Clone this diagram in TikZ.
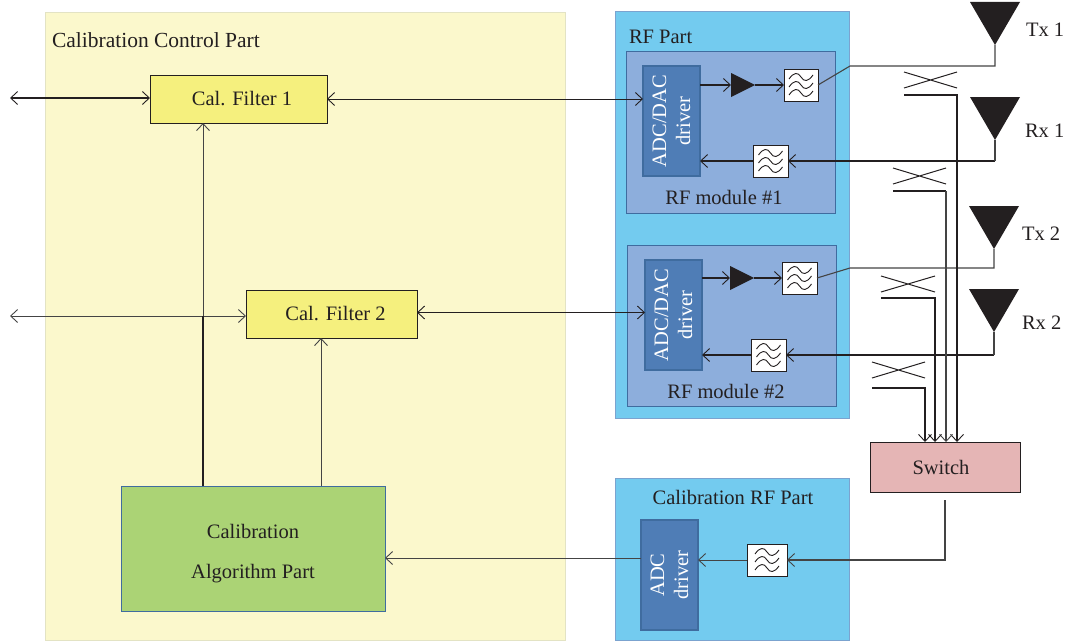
\documentclass[tikz,border=0pt]{standalone}
\usepackage{fontspec}
\setmainfont{Liberation Serif}
\usetikzlibrary{arrows.meta,calc}
\definecolor{ctlfill}{HTML}{FBF8CC}
\definecolor{ctledge}{HTML}{E3E3C4}
\definecolor{rffill}{HTML}{73CBEF}
\definecolor{rfedge}{HTML}{7BA3CF}
\definecolor{modfill}{HTML}{8DAEDC}
\definecolor{modedge}{HTML}{3F6C9F}
\definecolor{drvfill}{HTML}{4F7DB6}
\definecolor{calfill}{HTML}{F5F07E}
\definecolor{algfill}{HTML}{ABD375}
\definecolor{swfill}{HTML}{E5B5B5}
\definecolor{ink}{HTML}{231F20}
\definecolor{wire}{HTML}{444444}
\tikzset{
  x=1pt,y=-1pt,
  every node/.style={font=\fontsize{20.5}{24}\selectfont,text=ink,inner sep=0pt,outer sep=0pt,align=center},
  block/.style={draw,rectangle,line width=.9pt},
  ctlpart/.style={block,draw=ctledge,fill=ctlfill},
  rfpart/.style={block,draw=rfedge,fill=rffill,line width=1pt},
  rfmod/.style={block,draw=modedge,fill=modfill},
  drv/.style={block,draw=modedge,fill=drvfill,line width=1.2pt},
  drvtext/.style={text=white,rotate=90},
  cal/.style={block,draw=ink,fill=calfill},
  alg/.style={block,draw=modedge,fill=algfill,line width=.9pt},
  sw/.style={block,draw=ink,fill=swfill},
  filt/.style={block,draw=ink,fill=white},
  tip/.style={-{Straight Barb[length=7pt,width=13pt,line width=.9pt]}},
  tips/.style={{Straight Barb[length=7pt,width=13pt,line width=.9pt]}-{Straight Barb[length=7pt,width=13pt,line width=.9pt]}},
  hair wire/.style={line width=.8pt,draw=wire},
  thin wire/.style={line width=1.1pt,draw=wire},
  thick wire/.style={line width=1.6pt,draw=ink},
  black wire/.style={line width=1pt,draw=ink},
  wave/.style={line width=.9pt,draw=ink},
  lab/.style={anchor=west},
}
\newcommand{\filtbox}[5]{% name cx cy w h
  \node[filt,minimum width=#4,minimum height=#5] (#1) at (#2,#3) {};
  \foreach \dy in {-8,0,8}{
    \draw[wave] ($(#1.center)+(-12,\dy+2)$) .. controls +(5,-7) and +(-3,-5) .. ($(#1.center)+(0,\dy)$) .. controls +(3,5) and +(-5,7) .. ($(#1.center)+(12,\dy-2)$);
  }
}
\newcommand{\antenna}[3]{% name cx topy
  \coordinate (#1) at (#2,#3+43);
  \fill[ink] (#2-25,#3) -- (#2+25,#3) -- (#1) -- cycle;
}
\newcommand{\amp}[3]{% name leftx cy
  \coordinate (#1l) at (#2,#3);
  \coordinate (#1r) at (#2+24,#3);
  \fill[ink] (#2,#3-12) -- (#1r) -- (#2,#3+12) -- cycle;
}
\newcommand{\coupler}[5]{% name xleft ytop yline xright
  \coordinate (#1a) at (#2,#3);
  \coordinate (#1b) at (#5,#3+16);
  \coordinate (#1c) at (#2,#3+16);
  \coordinate (#1d) at (#5,#3);
  \coordinate (#1l) at (#2,#4);
  \coordinate (#1r) at (#5,#4);
  \draw[black wire] (#1a) -- (#1b) (#1c) -- (#1d);
}
\begin{document}
\begin{tikzpicture}
\useasboundingbox (0,0) rectangle (1065,642);
% parts
\node[ctlpart,minimum width=520,minimum height=628] (ctl) at (305,326) {};
\node[lab,font=\fontsize{21.5}{24}\selectfont] (ctllab) at (52,40) {Calibration Control Part};
\node[rfpart,minimum width=234,minimum height=406] (rf) at (732,215) {};
\node[lab] (rflab) at (629,37) {RF Part};
\node[rfmod,minimum width=209,minimum height=162] (m1) at (730.5,132) {};
\node (m1lab) at (724,197) {RF module \#1};
\node[rfmod,minimum width=209,minimum height=161] (m2) at (731.5,325.5) {};
\node (m2lab) at (726,391) {RF module \#2};
\node[rfpart,minimum width=234,minimum height=162] (crf) at (732,559) {};
\node (crflab) at (733,497) {Calibration RF Part};
% drivers
\node[drv,minimum width=57,minimum height=110] (d1) at (671.5,121) {};
\node[drvtext] (d1t) at (d1.center) {ADC/DAC\\driver};
\node[drv,minimum width=57,minimum height=110] (d2) at (673.5,315) {};
\node[drvtext] (d2t) at (d2.center) {ADC/DAC\\driver};
\node[drv,minimum width=57,minimum height=110] (d3) at (669.5,575) {};
\node[drvtext] (d3t) at (d3.center) {ADC\\driver};
% blocks
\node[cal,minimum width=177,minimum height=48] (cf1) at (238.5,99) {};
\node (cf1t) at (242,99) {Cal. Filter 1};
\node[cal,minimum width=171,minimum height=48] (cf2) at (331.5,314) {};
\node (cf2t) at (335.5,314) {Cal. Filter 2};
\node[alg,minimum width=264,minimum height=125] (algo) at (253,548.5) {};
\node (algot) at (253,554) {Calibration\\[16pt]Algorithm Part};
\node[sw,minimum width=150,minimum height=50] (swi) at (945,467) {};
\node (swit) at (941,467) {Switch};
% filters
\filtbox{f1a}{801}{85}{34}{32}
\filtbox{f1b}{770.5}{161}{35}{32}
\filtbox{f2a}{799.5}{278}{35}{32}
\filtbox{f2b}{768.5}{355}{35}{32}
\filtbox{f3}{767}{560}{40}{32}
% amplifiers
\amp{a1}{731}{85}
\amp{a2}{730}{278}
% antennas
\antenna{tx1}{995}{2}
\antenna{rx1}{995}{97}
\antenna{tx2}{994}{206}
\antenna{rx2}{994}{289}
\node[lab] (tx1lab) at (1026,30) {Tx 1};
\node[lab] (rx1lab) at (1025,131) {Rx 1};
\node[lab] (tx2lab) at (1022,234) {Tx 2};
\node[lab] (rx2lab) at (1022,323) {Rx 2};
% couplers
\coupler{c1}{904}{72}{95}{957}
\coupler{c2}{893}{168}{191}{946}
\coupler{c3}{881}{276}{298}{935}
\coupler{c4}{872}{362}{388}{925}
% free ends
\coordinate (ext1) at (10,98);
\coordinate (ext2) at (10,316);
\coordinate (bend1) at (850,66);
\coordinate (bend2) at (850,268);
\coordinate (swout) at (945,500);
\coordinate (cf2y) at (0,312.5);
% left side
\draw[tips,black wire,line width=1.1pt] (ext1) -- (ext1 -| cf1.west);
\draw[tips,hair wire] (ext2) -- (ext2 -| cf2.west);
\draw[tips,hair wire,draw=ink] (cf1.east) -- (cf1.east -| d1.west);
\draw[tips,hair wire,draw=ink] (cf2y -| cf2.east) -- (cf2y -| d2.west);
\draw[tip,hair wire] (203,486) -- (203,123);
\draw[black wire,line width=1.3pt] (203,486) -- (203,316);
\draw[tip,hair wire] (321,486) -- (321,338);
% Tx / Rx chains
\draw[tip,thick wire] (d1.east |- a1l) -- (a1l);
\draw[tip,thick wire] (a1r) -- (f1a.west);
\draw[tip,thick wire] (d2.east |- a2l) -- (a2l);
\draw[tip,thick wire] (a2r) -- (f2a.west);
\draw[tip,thick wire] (f1b.west) -- (f1b.west -| d1.east);
\draw[tip,thick wire] (f2b.west) -- (f2b.west -| d2.east);
\draw[tip,thick wire] (rx1 |- f1b.east) -- (f1b.east);
\draw[tip,thick wire] (rx2 |- f2b.east) -- (f2b.east);
\draw[thin wire] (rx1) -- (rx1 |- f1b.east);
\draw[thin wire] (rx2) -- (rx2 |- f2b.east);
\draw[thin wire] (f1a.east) -- (bend1) -- (bend1 -| tx1) -- (tx1);
\draw[thin wire] (f2a.east) -- (bend2) -- (bend2 -| tx2) -- (tx2);
% coupled lines
\draw[tip,thick wire] (c1l) -- (c1r) -- (c1r |- swi.north);
\draw[thick wire] (c2l) -- (c2r);
\draw[tip,thin wire] (c2r) -- (c2r |- swi.north);
\draw[tip,thick wire] (c3l) -- (c3r) -- (c3r |- swi.north);
\draw[tip,thick wire] (c4l) -- (c4r) -- (c4r |- swi.north);
% calibration path
\draw[tip,thin wire] (swout) -- (swout |- f3.east) -- (f3.east);
\draw[tip,hair wire] (f3.west) -- (f3.west -| d3.east);
\draw[tip,hair wire] (d3.west |- 0,558) -- (algo.east |- 0,558);
\end{tikzpicture}
\end{document}
